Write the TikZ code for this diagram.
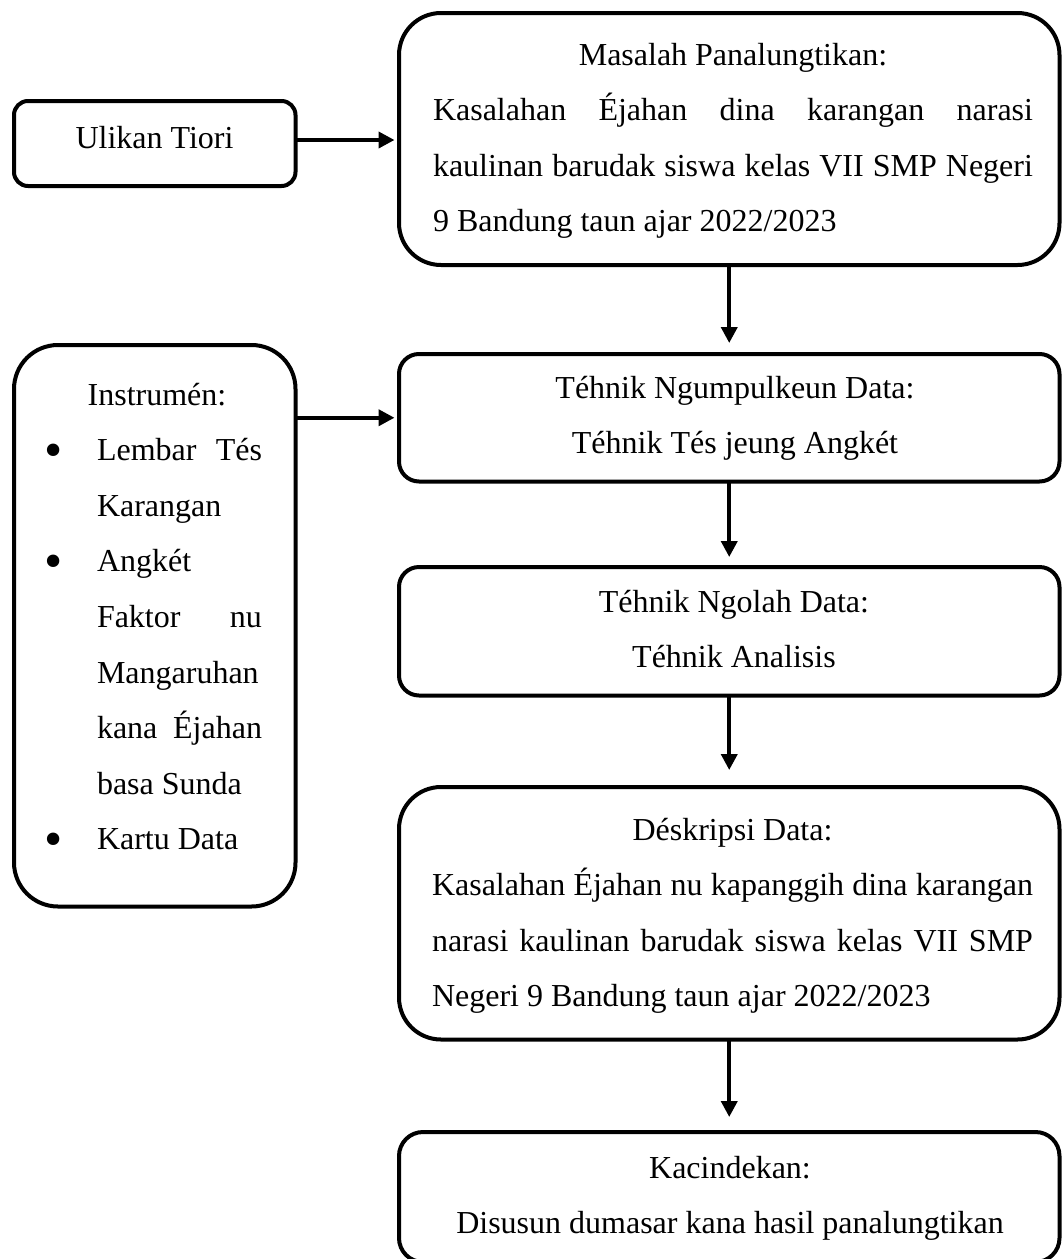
\documentclass[tikz,border=0pt]{standalone}
\usepackage{fontspec}
\setmainfont{Liberation Serif}
\usetikzlibrary{arrows.meta}
\newcommand\lineJ[1]{\makebox[\linewidth][s]{#1}}
\newcommand\lineC[1]{\makebox[\linewidth][c]{#1}}
\newcommand\lineL[1]{\makebox[\linewidth][l]{#1}}
\newcommand\mbul{\makebox[49pt][l]{\hspace{-3pt}\raisebox{-7pt}{\fontsize{52}{52}\selectfont •}}}
\begin{document}
\begin{tikzpicture}[x=1pt,y=-1pt,
  frame/.style={draw, line width=4pt, inner sep=0pt, outer sep=0pt},
  txt/.style={inner sep=0pt, outer sep=0pt, font=\fontsize{32}{55.6}\selectfont},
  conn/.style={line width=3.8pt, -{Triangle[length=16pt,width=16pt]}}]
\useasboundingbox (0,0) rectangle (1063,1259);
\fill[white] (0,0) rectangle (1063,1259);

% boxes
\node[frame, rounded corners=14pt, minimum width=281.5pt, minimum height=85pt] (ulikan) at (154.75,143.5) {};
\node[frame, rounded corners=42pt, minimum width=660.5pt, minimum height=252pt] (masalah) at (729.25,139) {};
\node[frame, rounded corners=44pt, minimum width=281.5pt, minimum height=561.5pt] (instr) at (154.75,625.75) {};
\node[frame, rounded corners=20pt, minimum width=660.5pt, minimum height=127.5pt] (ngump) at (729.25,417.75) {};
\node[frame, rounded corners=20pt, minimum width=660.5pt, minimum height=128.5pt] (ngolah) at (729.25,631.25) {};
\node[frame, rounded corners=42pt, minimum width=660.5pt, minimum height=252.5pt] (deskr) at (729.25,913.25) {};
\node[frame, rounded corners=24pt, minimum width=660.5pt, minimum height=130pt] (kacin) at (729.25,1197) {};

% texts
\node[txt, anchor=base] (tUlikan) at (154.5,148) {Ulikan Tiori};
\node[txt, anchor=base west] (tMasalah) at (433,65) {\parbox[t]{600pt}{%
  \lineC{Masalah Panalungtikan:}\\
  \lineJ{Kasalahan Éjahan dina karangan narasi}\\
  \lineJ{kaulinan barudak siswa kelas VII SMP Negeri}\\
  \lineL{9 Bandung taun ajar 2022/2023}}};
\node[txt, anchor=base west] (tInstr) at (48,405) {\parbox[t]{214pt}{%
  \lineC{\hspace{4pt}Instrumén:}\\
  \mbul\makebox[165pt][s]{Lembar Tés}\\
  \hspace*{49pt}Karangan\\
  \mbul Angkét\\
  \hspace*{49pt}\makebox[165pt][s]{Faktor nu}\\
  \hspace*{49pt}Mangaruhan\\
  \hspace*{49pt}\makebox[165pt][s]{kana Éjahan}\\
  \hspace*{49pt}basa Sunda\\
  \mbul Kartu Data}};
\node[txt, anchor=base] (tNgump) at (735,398) {\parbox[t]{600pt}{\centering
  Téhnik Ngumpulkeun Data:\\
  Téhnik Tés jeung Angkét}};
\node[txt, anchor=base] (tNgolah) at (734,612) {\parbox[t]{600pt}{\centering
  Téhnik Ngolah Data:\\
  Téhnik Analisis}};
\node[txt, anchor=base west] (tDeskr) at (432,840) {\parbox[t]{601pt}{%
  \lineC{Déskripsi Data:}\\
  \lineJ{Kasalahan Éjahan nu kapanggih dina karangan}\\
  \lineJ{narasi kaulinan barudak siswa kelas VII SMP}\\
  \lineL{Negeri 9 Bandung taun ajar 2022/2023}}};
\node[txt, anchor=base] (tKacin) at (730,1178) {\parbox[t]{600pt}{\centering
  Kacindekan:\\
  Disusun dumasar kana hasil panalungtikan}};

% connectors
\draw[conn, shorten >=4.5pt] ([yshift=3.5pt]ulikan.east) -- ([yshift=3.5pt]ulikan.east -| masalah.west);
\draw[conn, shorten >=4.5pt] (instr.east |- ngump.west) -- (ngump.west);
\draw[conn, shorten >=11pt] (masalah.south) -- (ngump.north);
\draw[conn, shorten >=10pt] (ngump.south) -- (ngolah.north);
\draw[conn, shorten >=17pt] (ngolah.south) -- (deskr.north);
\draw[conn, shorten >=15pt] (deskr.south) -- (kacin.north);
\end{tikzpicture}
\end{document}
